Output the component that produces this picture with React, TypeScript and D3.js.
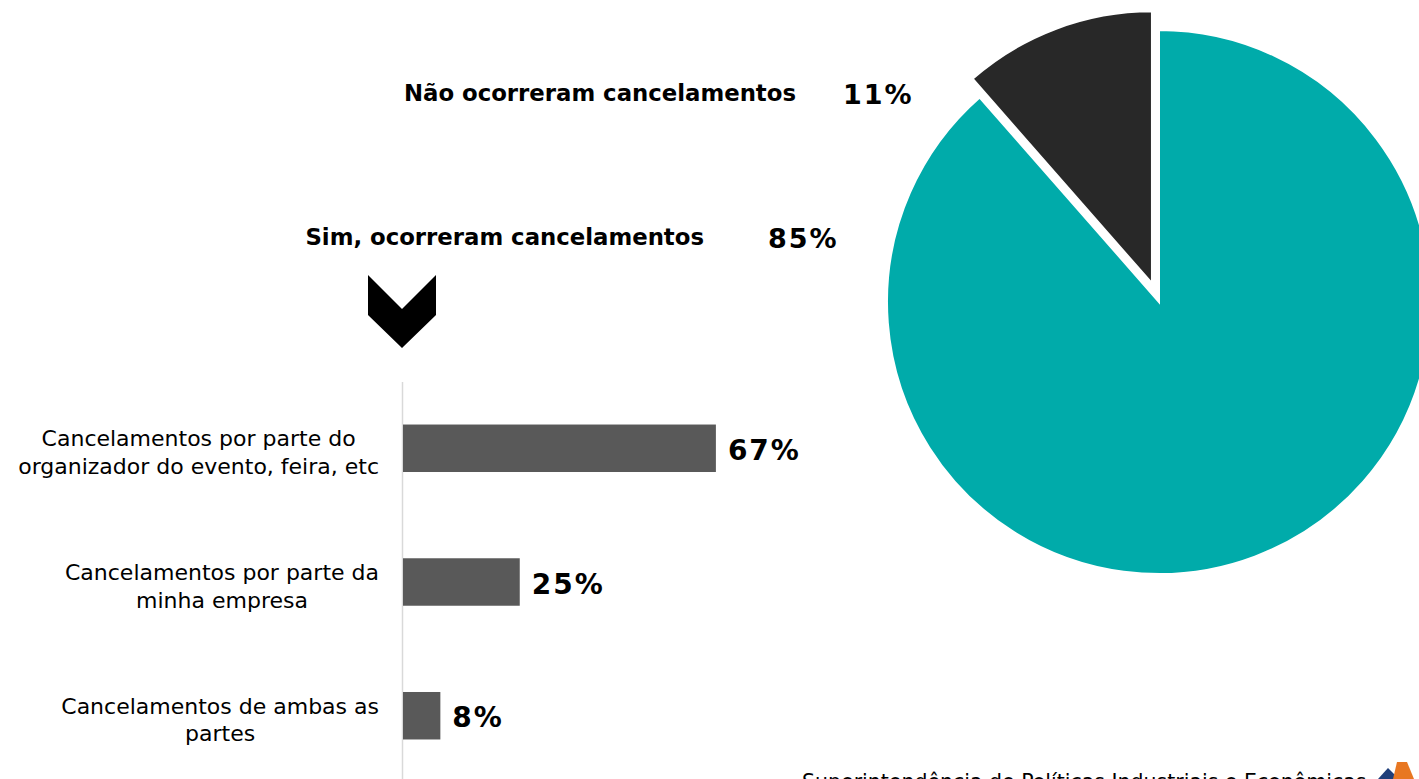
import React, { useMemo } from "react";
import * as d3 from "d3";

const pieLabels = ["Sim, ocorreram cancelamentos", "Não ocorreram cancelamentos"];
const pieValues = [85, 11];
const pieColors = ["#00ABAA", "#282828"];

const barCategories = [
  ["Cancelamentos por parte do", "organizador do evento, feira, etc"],
  ["Cancelamentos por parte da", "minha empresa"],
  ["Cancelamentos de ambas as", "partes"],
];
const barValues = [67, 25, 8];

const footerText = "Superintendência de Políticas Industriais e Econômicas";

const W = 1419;
const H = 779;

const catFont = "DejaVu Sans";

function measure(text: string, font: string): number {
  if (typeof document === "undefined") return text.length * 10;
  const c = document.createElement("canvas");
  const ctx = c.getContext("2d");
  if (!ctx) return text.length * 10;
  ctx.font = font;
  return ctx.measureText(text).width;
}

export default function App() {
  const cx = 1159;
  const cy = 302;
  const r = 272;
  const explode = 20;

  const arcs = useMemo(
    () => d3.pie<number>().sort(null).value((d) => d)(pieValues),
    []
  );
  const arcGen = d3.arc<d3.PieArcDatum<number>>().innerRadius(0).outerRadius(r);

  const yScale = d3
    .scaleBand<number>()
    .domain(barValues.map((_, i) => i))
    .range([382, 782])
    .paddingInner(0.645)
    .paddingOuter(0.318);
  const xScale = d3.scaleLinear().domain([0, 100]).range([403, 870]);

  const catFontSize = 22;
  const labelRight = 379;

  const labelCenters = barCategories.map((lines) => {
    const maxW = Math.max(
      ...lines.map((l) => measure(l, `${catFontSize}px "${catFont}"`))
    );
    return labelRight - maxW / 2;
  });

  return (
    <svg
      width={W}
      height={H}
      style={{ position: "absolute", left: 0, top: 0, background: "#fff" }}
    >
      {/* Pie */}
      <g>
        {arcs.map((a, i) => {
          const mid = (a.startAngle + a.endAngle) / 2;
          const off = i === 1 ? explode : 0;
          const dx = Math.sin(mid) * off;
          const dy = -Math.cos(mid) * off;
          return (
            <path
              key={i}
              d={arcGen(a) || ""}
              transform={`translate(${cx + dx},${cy + dy})`}
              fill={pieColors[i]}
              stroke="#fff"
              strokeWidth={2}
            />
          );
        })}
      </g>

      {/* Pie labels */}
      <g fontFamily="DejaVu Sans" fontWeight="bold" fill="#000">
        <text x={796} y={101} fontSize={22.8} textAnchor="end">
          {pieLabels[1]}
        </text>
        <text x={843} y={104} fontSize={27} letterSpacing={2}>
          {pieValues[1]}%
        </text>
        <text x={704} y={245} fontSize={22.8} textAnchor="end">
          {pieLabels[0]}
        </text>
        <text x={768} y={248} fontSize={27} letterSpacing={2}>
          {pieValues[0]}%
        </text>
      </g>

      {/* Chevron arrow */}
      <path
        d="M368,275 L402,309 L436,275 L436,315 L402,348 L368,315 Z"
        fill="#000"
      />

      {/* Bar axis */}
      <line x1={402.5} x2={402.5} y1={382} y2={H} stroke="#d9d9d9" strokeWidth={1.5} />

      {/* Bars */}
      {barValues.map((v, i) => {
        const y = yScale(i) as number;
        const bw = yScale.bandwidth();
        return (
          <g key={i}>
            <rect
              x={xScale(0)}
              y={y}
              width={xScale(v) - xScale(0)}
              height={bw}
              fill="#595959"
            />
            <text
              x={xScale(v) + 12}
              y={y + bw / 2 + 11.5}
              fontFamily="DejaVu Sans"
              fontWeight="bold"
              fontSize={28}
              letterSpacing={2}
              fill="#000"
            >
              {v}%
            </text>
            {barCategories[i].map((line, j) => (
              <text
                key={j}
                x={labelCenters[i]}
                y={y + bw / 2 - 2 + j * 27.5}
                textAnchor="middle"
                fontFamily={catFont}
                fontSize={catFontSize}
                fill="#000"
              >
                {line}
              </text>
            ))}
          </g>
        );
      })}

      {/* Footer */}
      <text x={802} y={789} fontFamily={catFont} fontSize={20.5} fill="#000">
        {footerText}
      </text>
      <g>
        <path d="M1378,779 L1388,768 L1399,779 Z" fill="#1f3f7a" />
        <path d="M1393,779 L1397,762 L1407,762 L1414,779 Z" fill="#e87722" />
      </g>
    </svg>
  );
}
